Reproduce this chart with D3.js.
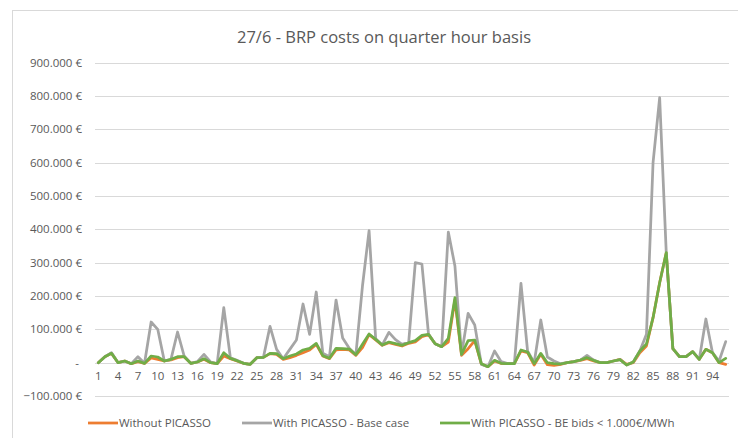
<!DOCTYPE html>
<html>
<head>
<meta charset="utf-8">
<script src="https://cdn.jsdelivr.net/npm/d3@7"></script>
<style>
body { margin: 0; background: #fff; }
text { font-family: "Open Sans", sans-serif; fill: #595959; }
</style>
</head>
<body>
<div id="chart"></div>
<script>
var quarters = d3.range(1, 97)
var without_picasso = [0,18,28,0,5,-3,3,-2,14,10,5,8,15,18,-2,2,10,0,-3,20,12,5,-2,-5,15,16,27,25,10,15,22,30,38,55,20,12,38,40,38,22,
                       45,84,68,52,60,55,50,58,62,78,84,57,48,62,188,22,42,66,-4,-12,5,-2,-3,-3,35,30,-7,25,-6,-8,-5,0,3,7,12,5,0,0,5,10,
                       -5,0,30,50,135,240,330,42,18,18,33,10,40,30,0,-5]
var base_case = [0,18,30,0,5,-3,18,-2,122,100,5,10,92,20,-2,3,25,2,-3,165,15,7,-2,-5,15,16,109,40,12,40,68,176,85,212,28,18,188,74,43,24,
                 230,396,72,53,91,69,55,62,300,296,86,57,48,392,290,25,148,113,-5,-12,35,3,-3,-3,238,35,0,128,17,5,-3,0,3,8,22,8,0,0,5,9,
                 -7,2,35,85,600,795,330,42,18,18,33,10,131,30,5,63]
var be_bids = [0,18,28,0,5,-3,5,-2,20,17,5,10,18,18,-2,2,12,0,-3,30,13,6,-2,-5,15,16,28,27,12,20,26,38,43,58,21,13,43,42,41,24,
               55,86,70,53,62,57,52,60,66,82,85,57,48,73,195,25,66,68,-3,-12,7,-2,-3,-3,38,32,-3,28,0,-3,-4,0,3,8,15,7,0,0,5,9,
               -7,2,35,56,135,240,330,42,18,18,33,10,40,30,0,13]
var series_names = ['Without PICASSO', 'With PICASSO - Base case', 'With PICASSO - BE bids < 1.000€/MWh']
var series_colors = ['#ED7D31', '#A5A5A5', '#70AD47']
var y_ticks = [-100000,0,100000,200000,300000,400000,500000,600000,700000,800000,900000]

var all_series = [without_picasso, base_case, be_bids]

var svg = d3.select('div#chart')
            .append('svg')
            .attr('width', 738)
            .attr('height', 438)

    svg.append('rect')
        .attr('x', 12.5)
        .attr('y', 10.5)
        .attr('width', 740)
        .attr('height', 440)
        .attr('fill', 'white')
        .attr('stroke', '#D9D9D9')

var x = d3.scaleBand()
          .domain(quarters)
          .range([95, 729])
var y = d3.scaleLinear()
          .domain([-100000, 900000])
          .range([396, 62.7])

    svg.append('text')
        .attr('x', 384)
        .attr('y', 43)
        .style('text-anchor', 'middle')
        .style('font-size', '16.5px')
        .text('27/6 - BRP costs on quarter hour basis')

    svg.append('g')
        .selectAll('line')
        .data(y_ticks)
        .enter()
        .append('line')
        .attr('x1', 95)
        .attr('x2', 729)
        .attr('y1', function(d){ return Math.round(y(d)) + 0.5 })
        .attr('y2', function(d){ return Math.round(y(d)) + 0.5 })
        .attr('stroke', '#D9D9D9')
        .attr('stroke-width', 1)

var euro = d3.format(',.0f')
    svg.append('g')
        .selectAll('text')
        .data(y_ticks)
        .enter()
        .append('text')
        .attr('x', function(d){ return d == 0 ? 79 : 82 })
        .attr('y', function(d){ return y(d) + 4 })
        .style('text-anchor', 'end')
        .style('font-size', '11.5px')
        .text(function(d){
            if(d == 0){ return '-' }
            return euro(d).replace(/,/g, '.') + ' €'
        })

var x_axis = d3.axisBottom(x)
               .tickValues(quarters.filter(function(d){ return (d - 1) % 3 == 0 }))
               .tickSize(0)
               .tickPadding(10)
var gx = svg.append('g')
            .attr('transform', 'translate(0,' + (y(0) - 0.5) + ')')
            .call(x_axis)
    gx.select('.domain').remove()
    gx.selectAll('text')
        .style('font-size', '11.5px')
        .style('font-family', '"Open Sans", sans-serif')
        .attr('fill', '#595959')

var line = d3.line()
             .x(function(d, i){ return x(quarters[i]) + x.bandwidth() / 2 })
             .y(function(d){ return y(d * 1000) })

    svg.append('g')
        .selectAll('path')
        .data(all_series)
        .enter()
        .append('path')
        .attr('d', line)
        .attr('fill', 'none')
        .attr('stroke', function(d, i){ return series_colors[i] })
        .attr('stroke-width', 2.75)
        .attr('stroke-linejoin', 'round')
        .attr('stroke-linecap', 'round')

//legend
var legend_x = [88, 242, 440]
var legend = svg.append('g')
                .selectAll('g')
                .data(series_names)
                .enter()
                .append('g')
                .attr('transform', function(d, i){ return 'translate(' + legend_x[i] + ',423)' })
    legend.append('line')
        .attr('x1', 0)
        .attr('x2', 30)
        .attr('stroke', function(d, i){ return series_colors[i] })
        .attr('stroke-width', 2.75)
    legend.append('text')
        .attr('x', 31)
        .attr('y', 4)
        .style('font-size', '11.5px')
        .text(function(d){ return d })
</script>
</body>
</html>
